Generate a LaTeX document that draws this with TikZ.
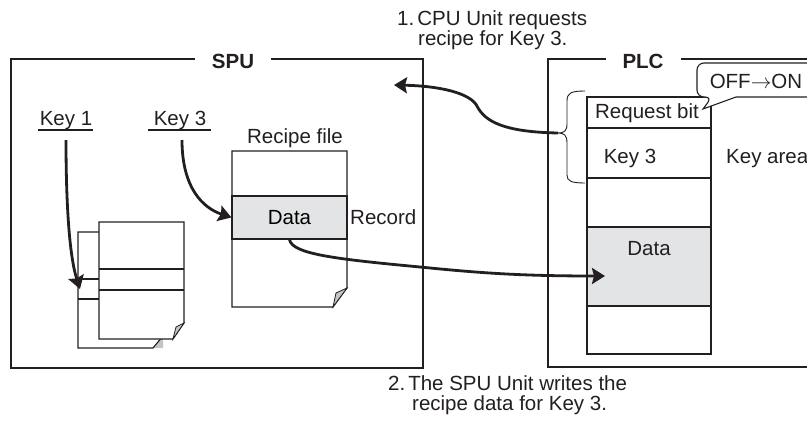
\documentclass[tikz,border=0pt]{standalone}
\usepackage{fontspec}
\setmainfont{Liberation Sans}
\usetikzlibrary{arrows.meta}
\definecolor{ink}{HTML}{231F20}
\definecolor{band}{HTML}{E3E4E5}
\definecolor{foldc}{HTML}{C4C4C4}
\begin{document}
\begin{tikzpicture}[x=1pt,y=-1pt,
  font=\fontsize{20.5}{22}\selectfont,
  thinline/.style={draw=ink, line width=1.1pt},
  bigarrow/.style={draw=ink, line width=2.8pt, -{Stealth[length=13pt,width=16pt,inset=2pt]}},
  lbl/.style={inner sep=0pt, text=ink},
  titlebox/.style={font=\fontsize{20.5}{22}\selectfont\bfseries, fill=white, inner xsep=17pt, inner ysep=1pt, text=ink},
  bandbox/.style={draw=ink, line width=1.1pt, fill=band, inner sep=0pt}]
\useasboundingbox (0,0) rectangle (807,423);
\clip (0,0) rectangle (807,423);

% ---- outer boxes
\draw[thinline] (11,59) rectangle (423,368);
\node[titlebox] (spu) at (233,61) {SPU};
\draw[thinline] (548,59) rectangle (840,367);
\node[titlebox] (plc) at (643,61) {PLC};

% ---- step texts
\node[lbl, anchor=base west] (s1a) at (397,25) {1.\hspace{3pt}CPU Unit requests};
\node[lbl, anchor=base west] (s1b) at (418,45.5) {recipe for Key 3.};
\node[lbl, anchor=base west] (s2a) at (388,390) {2.\hspace{3pt}The SPU Unit writes the};
\node[lbl, anchor=base west] (s2b) at (412,410.5) {recipe data for Key 3.};

% ---- keys
\node[lbl, anchor=base] (key1) at (66,125) {Key 1};
\draw[draw=ink, line width=1.3pt] (38,130) -- (93,130);
\node[lbl, anchor=base] (key3) at (180,125) {Key 3};
\draw[draw=ink, line width=1.3pt] (148,130) -- (211,130);
\coordinate (k1start) at (66,140);
\coordinate (k3start) at (182,140);

% ---- recipe file
\node[lbl, anchor=base] (rftitle) at (295,143) {Recipe file};
\draw[thinline, fill=white] (232,151) -- (347,151) -- (347,288) -- (333,307) -- (232,307) -- cycle;
\draw[thinline, fill=foldc, line width=0.8pt] (347,288) -- (336,293) -- (333,307) -- cycle;
\node[bandbox, minimum width=115pt, minimum height=43pt] (rdata) at (289.5,217.5) {Data};
\node[lbl, anchor=west] (record) at (350,217.5) {Record};

% ---- stacked files (Key 1)
\fill[foldc] (153,348) -- (163,336) -- (163,348) -- cycle;
\draw[thinline, fill=white] (78,232) -- (163,232) -- (163,336) -- (153,348) -- (78,348) -- cycle;
\draw[thinline] (78,279) -- (99,279);
\draw[thinline] (78,299) -- (99,299);
\draw[thinline, fill=white] (99,222) -- (184,222) -- (184,323) -- (173,339) -- (99,339) -- cycle;
\draw[thinline, fill=foldc, line width=0.8pt] (184,323) -- (176,327) -- (173,339) -- cycle;
\draw[thinline] (99,269) -- (184,269);
\draw[thinline] (99,290) -- (184,290);
\coordinate (k1tip) at (80,289);

% ---- PLC memory column
\node[bandbox, minimum width=124pt, minimum height=79pt] (pdata) at (649,266.5) {};
\node[lbl, anchor=base] (pdatat) at (649,255) {Data};
\draw[thinline] (587,128) -- (711,128);
\draw[thinline] (587,178) -- (711,178);
\draw[draw=ink, line width=2.8pt] (587,97) rectangle (711,354);
\node[lbl, anchor=base] (reqbit) at (647,118) {Request bit};
\node[lbl, anchor=base] (pkey3) at (630,163) {Key 3};
\node[lbl, anchor=base west] (keyarea) at (726,163) {Key area};
\coordinate (ptip) at (605,276);

% ---- callout
\draw[thinline, fill=white, rounded corners=7pt] (840,63) -- (697,63) -- (697,97) -- (712,97) [sharp corners] -- (703,109) -- (736,97) -- (840,97);
\node[lbl, anchor=base] (offon) at (756,88) {OFF$\rightarrow$ON};

% ---- brace
\draw[draw=ink, line width=0.9pt] (585,91) .. controls (571,91) and (567,93) .. (567,101) -- (567,124) .. controls (567,131) and (564,133) .. (558,133) coordinate (brtip) .. controls (564,133) and (567,135) .. (567,143) -- (567,175) .. controls (567,181) and (571,183) .. (585,183);
\coordinate (a1end) at (394,85);

% ---- arrows
\draw[bigarrow] (k1start) .. controls (66,200) and (69,255) .. (k1tip);
\draw[bigarrow] (k3start) .. controls (182,188) and (203,208) .. (rdata.west);
\draw[bigarrow] (brtip) .. controls (505,132) and (485,122) .. (477,106) .. controls (470,93) and (440,86) .. (a1end);
\draw[bigarrow] (rdata.south) .. controls (292,254) and (335,259) .. (420,267) .. controls (480,273) and (520,276) .. (ptip);
\end{tikzpicture}
\end{document}
